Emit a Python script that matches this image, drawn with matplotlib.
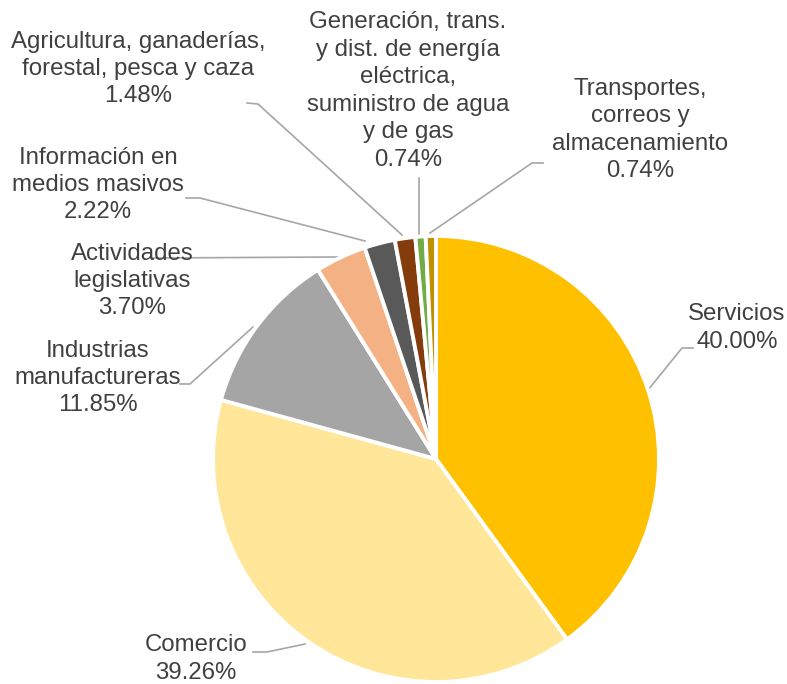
import matplotlib.pyplot as plt

# datos
sectores = ['Servicios', 'Comercio', 'Industrias\nmanufactureras', 'Actividades\nlegislativas',
            'Información en\nmedios masivos', 'Agricultura, ganaderías,\nforestal, pesca y caza',
            'Generación, trans.\ny dist. de energía\neléctrica,\nsuministro de agua\ny de gas',
            'Transportes,\ncorreos y\nalmacenamiento']
porcentajes = [40.00, 39.26, 11.85, 3.70, 2.22, 1.48, 0.74, 0.74]
colores = ['#FFC000', '#FFE699', '#A5A5A5', '#F4B183', '#595959', '#843C0C', '#70AD47', '#BF9000']

W, H = 787, 684
cx, cy, r = 436, 459, 223

# posición de etiquetas (pixeles, y hacia abajo)
pos_etiquetas = [(737, 328), (196, 659), (98, 378), (132, 281),
                 (98, 185), (138, 69), (408, 91), (640, 130)]
# líneas guía: puntos (x, y) en pixeles
guias = [
    [(693, 348), (682, 348), (648, 390)],
    [(253, 652), (267, 652), (305, 644)],
    [(180, 384), (190, 384), (253, 327)],
    [(150, 258), (338, 257)],
    [(186, 198), (200, 198), (365, 241)],
    [(247, 103), (258, 104), (402, 235)],
    [(419, 178), (419, 235)],
    [(543, 163), (532, 163), (430, 233)],
]

fig = plt.figure(figsize=(W / 100, H / 100), dpi=100)
ax = fig.add_axes([0, 0, 1, 1])

ax.pie(porcentajes, colors=colores, startangle=90, counterclock=False,
       center=(cx, H - cy), radius=r, frame=True,
       wedgeprops=dict(edgecolor='white', linewidth=2.8))
ax.set_xlim(0, W)
ax.set_ylim(0, H)
ax.set_aspect('equal')
ax.axis('off')

for pts in guias:
    xs = [p[0] for p in pts]
    ys = [H - p[1] for p in pts]
    ax.plot(xs, ys, color='#A6A6A6', lw=1.2, zorder=0)

for nombre, pct, (x, y) in zip(sectores, porcentajes, pos_etiquetas):
    ax.text(x, H - y, f'{nombre}\n{pct:.2f}%', ha='center', va='center',
            fontsize=17.3, color='#404040', family=['Liberation Sans', 'DejaVu Sans'],
            linespacing=1.32)

fig.savefig('out.png', dpi=100)
